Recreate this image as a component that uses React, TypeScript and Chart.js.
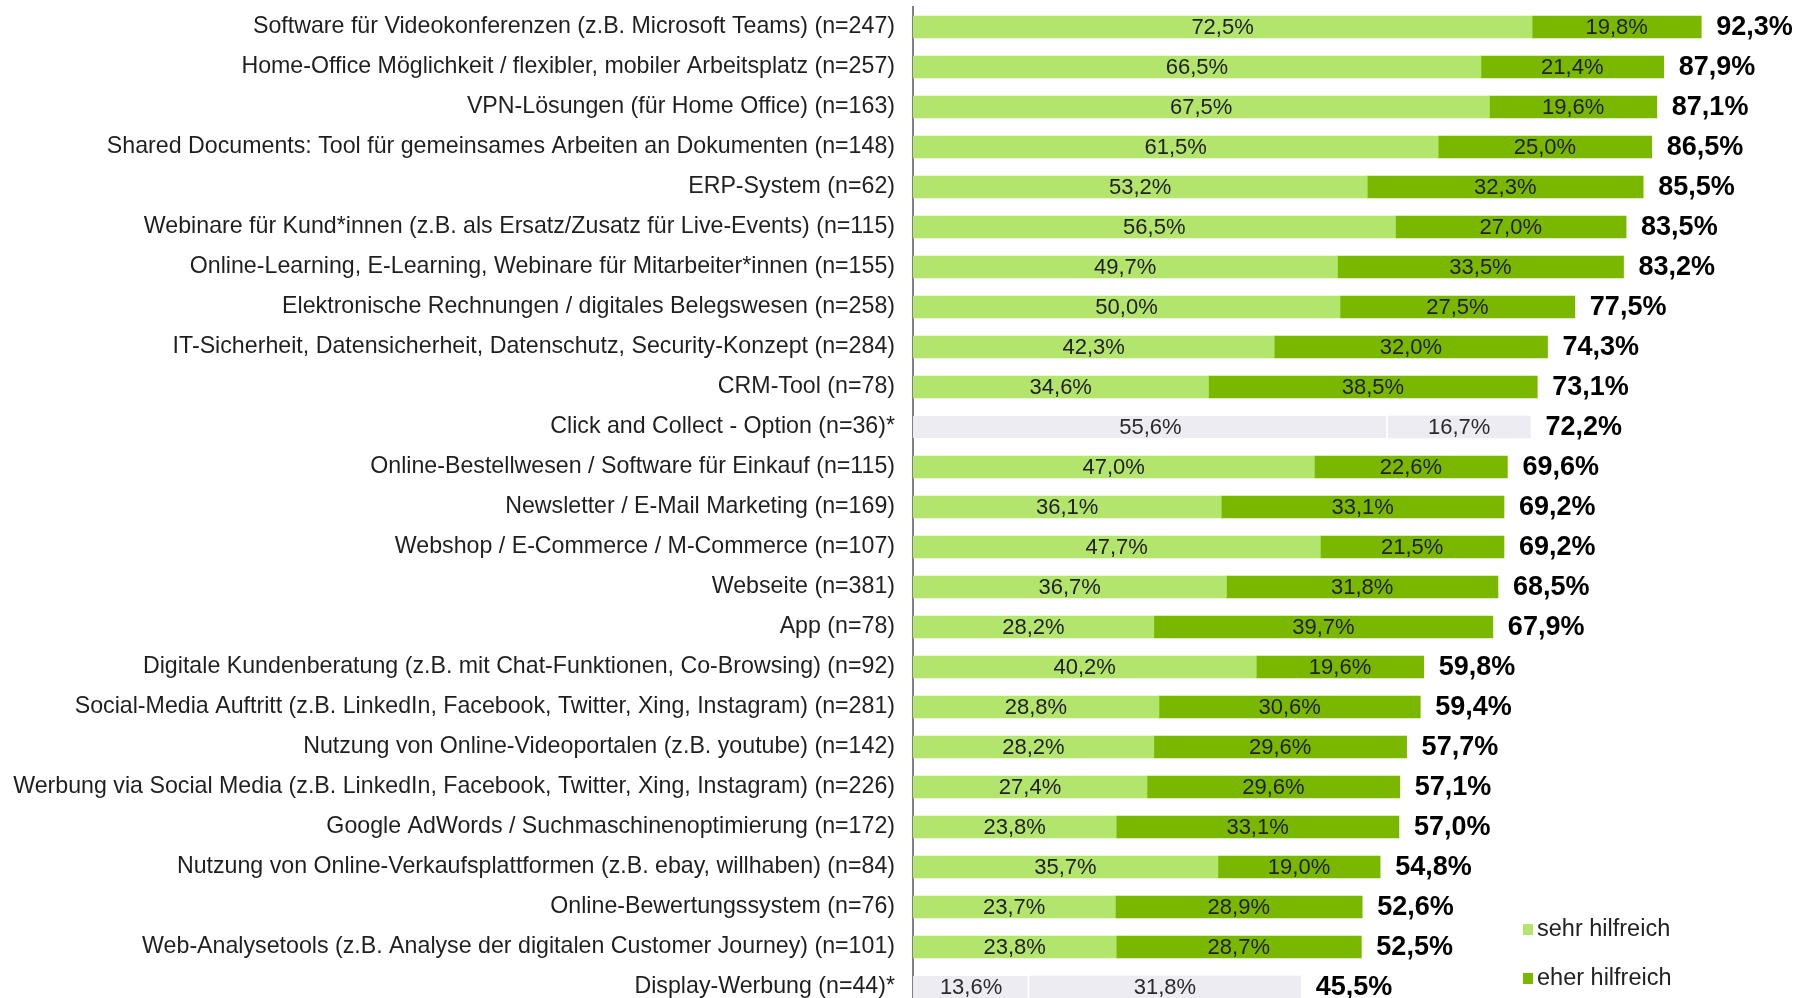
import React, { useEffect, useRef } from "react";
import { Chart, registerables } from "chart.js";

Chart.register(...registerables);

const categories: string[] = [
  "Software für Videokonferenzen (z.B. Microsoft Teams) (n=247)",
  "Home-Office Möglichkeit / flexibler, mobiler Arbeitsplatz (n=257)",
  "VPN-Lösungen (für Home Office) (n=163)",
  "Shared Documents: Tool für gemeinsames Arbeiten an Dokumenten (n=148)",
  "ERP-System (n=62)",
  "Webinare für Kund*innen (z.B. als Ersatz/Zusatz für Live-Events) (n=115)",
  "Online-Learning, E-Learning, Webinare für Mitarbeiter*innen (n=155)",
  "Elektronische Rechnungen / digitales Belegswesen (n=258)",
  "IT-Sicherheit, Datensicherheit, Datenschutz, Security-Konzept (n=284)",
  "CRM-Tool (n=78)",
  "Click and Collect - Option (n=36)*",
  "Online-Bestellwesen / Software für Einkauf (n=115)",
  "Newsletter / E-Mail Marketing (n=169)",
  "Webshop / E-Commerce / M-Commerce (n=107)",
  "Webseite (n=381)",
  "App (n=78)",
  "Digitale Kundenberatung (z.B. mit Chat-Funktionen, Co-Browsing) (n=92)",
  "Social-Media Auftritt (z.B. LinkedIn, Facebook, Twitter, Xing, Instagram) (n=281)",
  "Nutzung von Online-Videoportalen (z.B. youtube) (n=142)",
  "Werbung via Social Media (z.B. LinkedIn, Facebook, Twitter, Xing, Instagram) (n=226)",
  "Google AdWords / Suchmaschinenoptimierung (n=172)",
  "Nutzung von Online-Verkaufsplattformen (z.B. ebay, willhaben) (n=84)",
  "Online-Bewertungssystem (n=76)",
  "Web-Analysetools (z.B. Analyse der digitalen Customer Journey) (n=101)",
  "Display-Werbung (n=44)*",
];

const sehrHilfreich: number[] = [
  72.5, 66.5, 67.5, 61.5, 53.2, 56.5, 49.7, 50.0, 42.3, 34.6, 55.6, 47.0, 36.1,
  47.7, 36.7, 28.2, 40.2, 28.8, 28.2, 27.4, 23.8, 35.7, 23.7, 23.8, 13.6,
];

const eherHilfreich: number[] = [
  19.8, 21.4, 19.6, 25.0, 32.3, 27.0, 33.5, 27.5, 32.0, 38.5, 16.7, 22.6, 33.1,
  21.5, 31.8, 39.7, 19.6, 30.6, 29.6, 29.6, 33.1, 19.0, 28.9, 28.7, 31.8,
];

const totals: number[] = [
  92.3, 87.9, 87.1, 86.5, 85.5, 83.5, 83.2, 77.5, 74.3, 73.1, 72.2, 69.6, 69.2,
  69.2, 68.5, 67.9, 59.8, 59.4, 57.7, 57.1, 57.0, 54.8, 52.6, 52.5, 45.5,
];

// rows with small sample size (shown in grey)
const greyRows: number[] = [10, 24];

const seriesNames: string[] = ["sehr hilfreich", "eher hilfreich"];

const LIGHT = "#b3e46b";
const DARK = "#7ab800";
const GREY = "#ececf2";
const TEXT = "#1f1f1f";
const FONT = "'Liberation Sans', Arial, sans-serif";

const fmt = (v: number) => v.toFixed(1).replace(".", ",") + "%";

const labelPlugin = {
  id: "valueLabels",
  afterDatasetsDraw(chart: any) {
    const ctx = chart.ctx;
    ctx.save();
    ctx.textBaseline = "middle";
    ctx.textAlign = "center";
    ctx.font = `22px ${FONT}`;
    chart.data.datasets.forEach((ds: any, di: number) => {
      const meta = chart.getDatasetMeta(di);
      meta.data.forEach((bar: any, i: number) => {
        const v = ds.data[i];
        ctx.fillStyle = greyRows.includes(i) ? "#2a2a2a" : TEXT;
        ctx.fillText(fmt(v), (bar.x + bar.base) / 2, bar.y + 1);
      });
    });
    const last = chart.getDatasetMeta(1);
    ctx.textAlign = "left";
    ctx.font = `bold 27px ${FONT}`;
    ctx.fillStyle = "#000000";
    last.data.forEach((bar: any, i: number) => {
      ctx.fillText(fmt(totals[i]), bar.x + 15, bar.y + 1);
    });
    ctx.restore();
  },
};

const legendPlugin = {
  id: "customLegend",
  afterDraw(chart: any) {
    const ctx = chart.ctx;
    ctx.save();
    const colors = [LIGHT, DARK];
    const ys = [929, 978];
    ctx.textBaseline = "middle";
    ctx.textAlign = "left";
    ctx.font = `23.5px ${FONT}`;
    seriesNames.forEach((name, i) => {
      ctx.fillStyle = colors[i];
      ctx.fillRect(1523, ys[i] - 5, 10, 11);
      ctx.fillStyle = "#222222";
      ctx.fillText(name, 1537, ys[i] + 1);
    });
    ctx.restore();
  },
};

export default function App() {
  const ref = useRef<HTMLCanvasElement | null>(null);

  useEffect(() => {
    document.body.style.margin = "0";
    document.body.style.overflow = "hidden";
    const canvas = ref.current;
    if (!canvas) return;
    const isGrey = (i: number) => greyRows.includes(i);
    const chart = new Chart(canvas, {
      type: "bar",
      data: {
        labels: categories,
        datasets: [
          {
            label: seriesNames[0],
            data: sehrHilfreich,
            backgroundColor: (c: any) => (isGrey(c.dataIndex) ? GREY : LIGHT),
            borderColor: "#ffffff",
            borderSkipped: false,
            borderWidth: (c: any) =>
              isGrey(c.dataIndex)
                ? { top: 0, bottom: 0, left: 0, right: 2 }
                : 0,
            barThickness: 22,
          },
          {
            label: seriesNames[1],
            data: eherHilfreich,
            backgroundColor: (c: any) => (isGrey(c.dataIndex) ? GREY : DARK),
            borderWidth: 0,
            barThickness: 22,
          },
        ],
      },
      options: {
        indexAxis: "y",
        animation: false,
        responsive: false,
        maintainAspectRatio: false,
        layout: { padding: { top: 7, bottom: 3, left: 0, right: 30 } },
        plugins: {
          legend: { display: false },
          tooltip: { enabled: false },
        },
        scales: {
          x: {
            stacked: true,
            min: 0,
            max: 100,
            display: false,
          },
          y: {
            stacked: true,
            grid: { display: false, drawTicks: false },
            border: { display: true, color: "#808080", width: 2 },
            ticks: {
              color: TEXT,
              font: { family: FONT, size: 23.2 },
              padding: 18,
              autoSkip: false,
            },
            afterFit(scale: any) {
              scale.width = 913;
              scale.paddingTop = 0;
              scale.paddingBottom = 0;
            },
          },
        },
      },
      plugins: [labelPlugin, legendPlugin],
    } as any);
    return () => chart.destroy();
  }, []);

  return (
    <div style={{ width: 1797, height: 998, overflow: "hidden" }}>
      <canvas ref={ref} width={1797} height={1010} style={{ display: "block" }} />
    </div>
  );
}
